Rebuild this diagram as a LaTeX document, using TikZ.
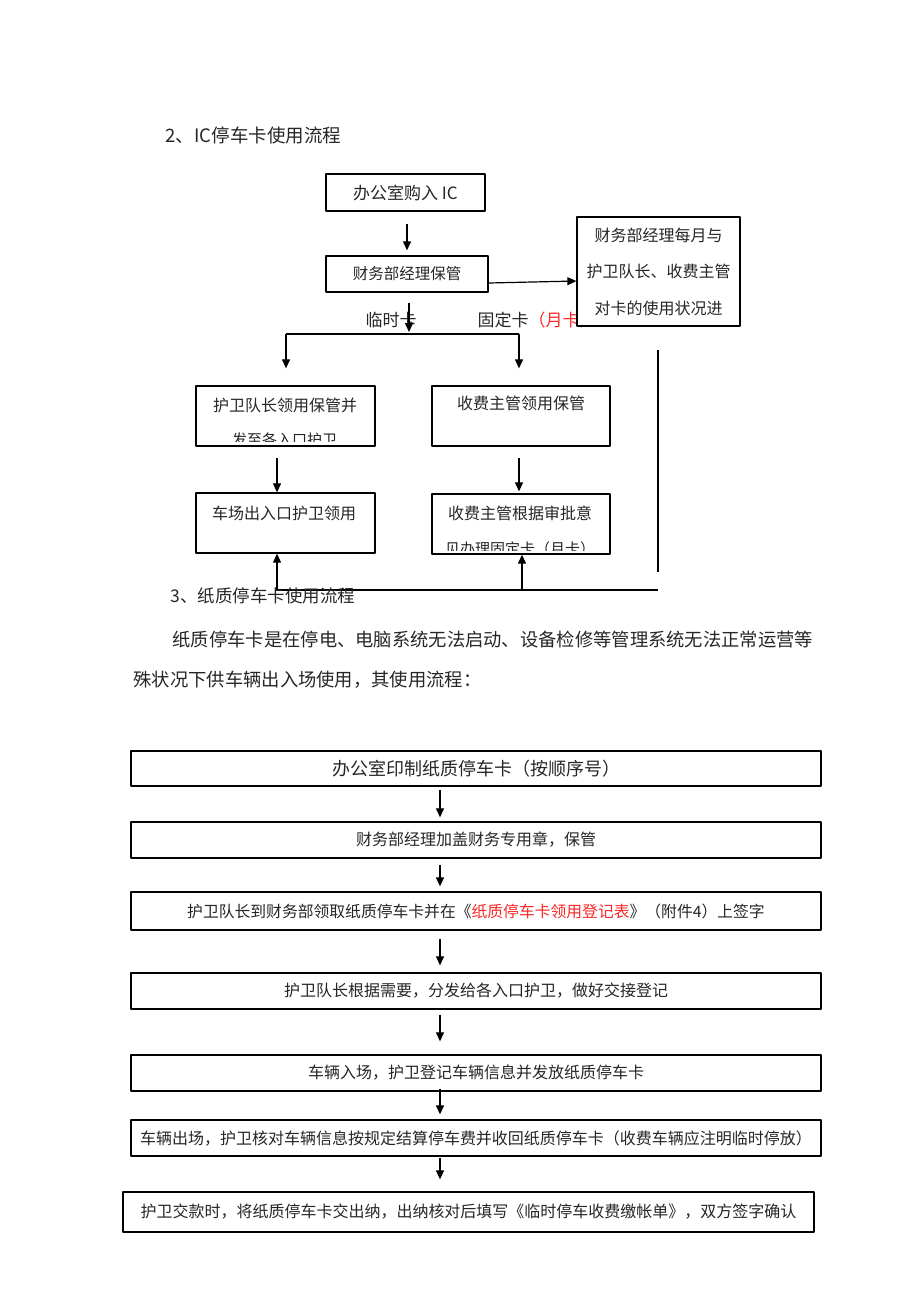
\documentclass[tikz,border=0pt]{standalone}
\usepackage{fontspec}
\setmainfont{Noto Sans CJK SC}
\usetikzlibrary{arrows.meta}
\definecolor{redtxt}{RGB}{250,40,40}
\newcommand\fsz[1]{\fontsize{#1}{#1}\selectfont}

\begin{document}
\begin{tikzpicture}[x=1pt, y=-1pt, line width=1.2pt, line join=round, >={Triangle[length=9pt,width=8pt]},
  box/.style={draw, line width=1.3pt, fill=white, inner sep=0pt, text=black!85},
  wide/.style={box, minimum width=690pt, minimum height=36pt, font=\fsz{16}},
  lbl/.style={inner sep=0pt, text=black!85},
  arr/.style={->}]
\useasboundingbox (0,0) rectangle (920,1302);
% IC 停车卡
\node[lbl, anchor=west, font=\fsz{18.5}] (h2) at (165,135) {2、IC停车卡使用流程};
\node[box, minimum width=159pt, minimum height=37pt, font=\fsz{17}] (A) at (405.5,192.5) {办公室购入 IC};
\node[box, minimum width=162pt, minimum height=36pt, font=\fsz{15.5}] (B) at (407,274) {财务部经理保管};
\node[lbl, font=\fsz{17}] (tmp) at (391,320) {临时卡};
\node[lbl, anchor=west, font=\fsz{17}] (fix) at (477,320) {固定卡\textcolor{redtxt}{（月卡）}};
\node[box, minimum width=163pt, minimum height=109pt, align=center, font={\fontsize{16}{36.5}\selectfont}] (D) at (658.5,271.5) {财务部经理每月与\\护卫队长、收费主管\\对卡的使用状况进};
\node[box, minimum width=179pt, minimum height=60pt] (C) at (285.5,416) {};
\node[box, minimum width=178pt, minimum height=60pt] (E) at (521,416) {};
\node[box, minimum width=179pt, minimum height=60pt] (G) at (285.5,523) {};
\node[box, minimum width=178pt, minimum height=60pt] (F) at (521,524) {};
\node[lbl, font=\fsz{16}] (Ct) at (285,405) {护卫队长领用保管并};
\node[lbl, font=\fsz{16}] (Et) at (521,403) {收费主管领用保管};
\node[lbl, font=\fsz{16}] (Gt) at (284,513) {车场出入口护卫领用};
\node[lbl, font=\fsz{16}] (Ft) at (520,513) {收费主管根据审批意};
\begin{scope}
  \clip ([yshift=5pt]C.south west) rectangle (C.north east);
  \node[lbl, font=\fsz{15}] (Cb) at (284.5,440) {发至各入口护卫};
\end{scope}
\begin{scope}
  \clip ([yshift=4pt]F.south west) rectangle (F.north east);
  \node[lbl, font=\fsz{15}] (Fb) at (520,549) {见办理固定卡（月卡）};
\end{scope}
\coordinate (split) at (409,334);
\coordinate (sL) at (286,334);
\coordinate (sR) at (519,334);
\draw[arr, shorten <=12pt, shorten >=5pt] (A.south -| B) -- (B.north);
\draw[arr] ([yshift=-9pt]B.east) -- ([yshift=-9.5pt]D.west);
\draw[arr, shorten <=10pt, shorten >=2pt] ([xshift=2pt]B.south) -- ([xshift=2pt]B.south |- split);
\draw (sL) -- (sR);
\draw[arr, shorten >=17pt] (sL) -- (sL |- C.north);
\draw[arr, shorten >=17pt] (sR) -- (sR |- E.north);
\draw[arr, shorten <=11pt] ([xshift=-8.5pt]C.south) -- ([xshift=-8.5pt]G.north);
\draw[arr, shorten <=11pt, shorten >=2pt] ([xshift=-2pt]E.south) -- ([xshift=-2pt]F.north);
\coordinate (bTop) at (658,350);
\coordinate (bBot) at (658,572);
\coordinate (bEnd) at (658,590);
\coordinate (rG) at (277,590);
\coordinate (rF) at (522,590);
\draw (bTop) -- (bBot);
\draw (bEnd) -- (rG);
\draw[arr] (rG) -- (rG |- G.south);
\draw[arr] (rF) -- (rF |- F.south);
% 纸质停车卡
\node[lbl, anchor=west, font=\fsz{17.5}] (h3) at (170,596) {3、纸质停车卡使用流程};
\node[lbl, anchor=west, font=\fsz{18.3}] (par1) at (172,640) {纸质停车卡是在停电、电脑系统无法启动、设备检修等管理系统无法正常运营等};
\node[lbl, anchor=west, font=\fsz{18.3}] (par2) at (133,680) {殊状况下供车辆出入场使用，其使用流程：};
\node[wide, minimum height=35pt, font=\fsz{18}] (p1) at (476,768.5) {办公室印制纸质停车卡（按顺序号）};
\node[wide] (p2) at (476,840) {财务部经理加盖财务专用章，保管};
\node[wide, minimum height=38pt, font=\fsz{15.8}] (p3) at (476,911) {护卫队长到财务部领取纸质停车卡并在《\textcolor{redtxt}{纸质停车卡领用登记表}》（附件4）上签字};
\node[wide] (p4) at (476,991) {护卫队长根据需要，分发给各入口护卫，做好交接登记};
\node[wide] (p5) at (476,1073) {车辆入场，护卫登记车辆信息并发放纸质停车卡};
\node[wide, font=\fsz{16}] (p6) at (476,1138) {车辆出场，护卫核对车辆信息按规定结算停车费并收回纸质停车卡（收费车辆应注明临时停放）};
\node[wide, minimum width=691pt, minimum height=40pt] (p7) at (468.5,1212) {护卫交款时，将纸质停车卡交出纳，出纳核对后填写《临时停车收费缴帐单》，双方签字确认};
\coordinate (ax) at (440,0);
\foreach \a/\b/\s/\e in {p1/p2/3/4, p2/p3/6/5, p3/p4/8/7, p4/p5/5/13, p5/p6/-3/5, p6/p7/1/12}
  \draw[arr, shorten <=\s pt, shorten >=\e pt] (ax |- \a.south) -- (ax |- \b.north);
\end{tikzpicture}
\end{document}
